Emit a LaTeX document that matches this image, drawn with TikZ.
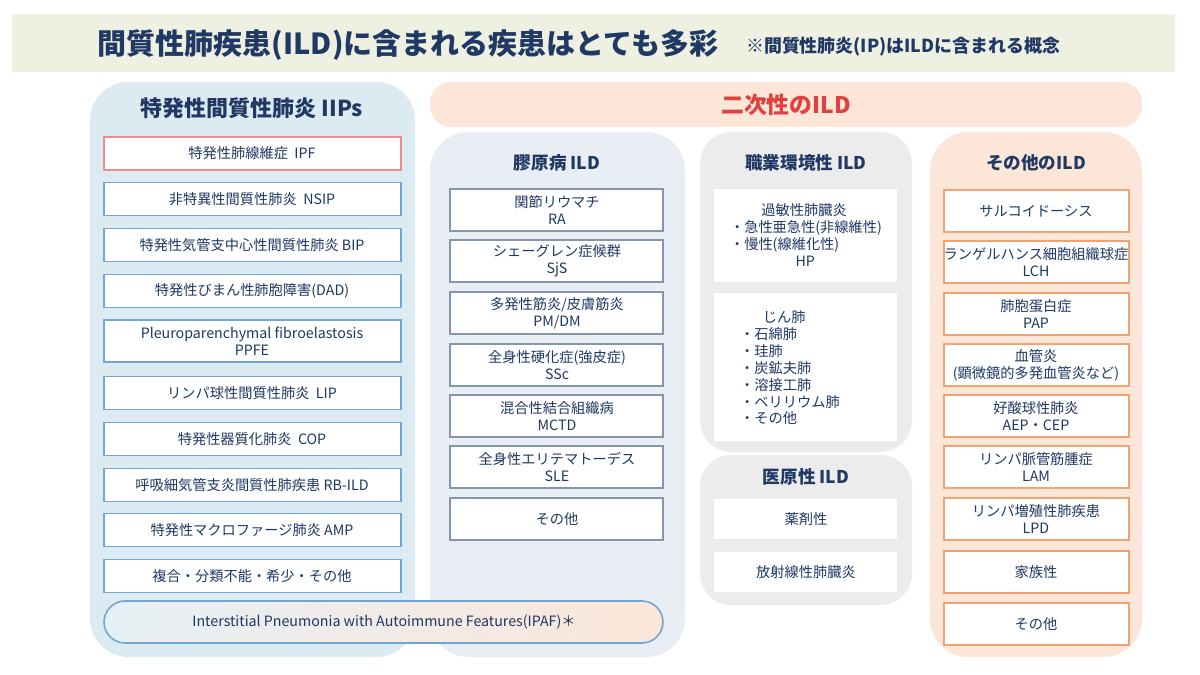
\documentclass[tikz,border=0pt]{standalone}
\usepackage{fontspec}
\setmainfont{Noto Sans CJK JP}
\definecolor{navy}{HTML}{1F3864}
\definecolor{band}{HTML}{EEF0E1}
\definecolor{lblue}{HTML}{DCEAF2}
\definecolor{bblue}{HTML}{6FA6D6}
\definecolor{peach}{HTML}{FBE6D8}
\definecolor{cgray}{HTML}{E9EEF4}
\definecolor{cbord}{HTML}{8495AD}
\definecolor{ogray}{HTML}{ECECEC}
\definecolor{obord}{HTML}{F0A272}
\definecolor{ired}{HTML}{E04040}
\begin{document}
\begin{tikzpicture}[x=0.02cm,y=-0.02cm,
  txt/.style={text=navy,font=\fontsize{8.1}{9.6}\selectfont,align=center},
  lbox/.style={draw=bblue,line width=0.9pt,fill=white},
  cbox/.style={draw=cbord,line width=0.7pt,fill=white},
  wbox/.style={draw=white!85!gray,line width=0.7pt,fill=white},
  obox/.style={draw=obord,line width=0.7pt,fill=white},
  hdr/.style={text=navy,font=\fontsize{10}{12}\selectfont\bfseries}]
\useasboundingbox (0,0) rectangle (1200,675);
\fill[white] (0,0) rectangle (1200,675);
\fill[band] (12,14) rectangle (1175,72);
\node[text=navy,font=\fontsize{16.5}{18}\selectfont\bfseries] (title) at (408,45) {間質性肺疾患(ILD)に含まれる疾患はとても多彩};
\node[text=navy,font=\fontsize{10.2}{12}\selectfont\bfseries,anchor=west] (note) at (740,47) {※間質性肺炎(IP)はILDに含まれる概念};
% columns
\fill[lblue,rounded corners=22] (90,82) rectangle (415,657);
\node[hdr,font=\fontsize{12.5}{14}\selectfont\bfseries] (h1) at (252,108) {特発性間質性肺炎 IIPs};
\fill[peach,rounded corners=12] (430,82) rectangle (1142,127);
\node[text=ired,font=\fontsize{13}{15}\selectfont\bfseries] (h2) at (786,105) {二次性のILD};
\fill[cgray,rounded corners=22] (430,132) rectangle (685,657);
\fill[ogray,rounded corners=18] (700,132) rectangle (912,452);
\fill[ogray,rounded corners=18] (700,455) rectangle (912,605);
\fill[peach,rounded corners=22] (930,132) rectangle (1142,657);
\node[hdr] (h3) at (557,163) {膠原病 ILD};
\node[hdr] (h4) at (806,163) {職業環境性 ILD};
\node[hdr] (h5) at (806,477) {医原性 ILD};
\node[hdr] (h6) at (1036,163) {その他のILD};
% left boxes
\draw[draw=ired!60,line width=0.9pt,fill=white] (104,137) rectangle (401,170);
\node[txt] (b1) at (252,153) {特発性肺線維症\ \ IPF};
\foreach \y/\t/\n in {199/{非特異性間質性肺炎\ \ NSIP}/b2,245/{特発性気管支中心性間質性肺炎 BIP}/b3,291/{特発性びまん性肺胞障害(DAD)}/b4,393/{リンパ球性間質性肺炎\ \ LIP}/b6,439/{特発性器質化肺炎\ \ COP}/b7,485/{呼吸細気管支炎間質性肺疾患 RB-ILD}/b8,530/{特発性マクロファージ肺炎 AMP}/b9,576/{複合・分類不能・希少・その他}/b10}{
  \draw[lbox] (104,\y-16.5) rectangle (401,\y+16.5);
  \node[txt] (\n) at (252,\y) {\t};}
\draw[lbox] (104,320) rectangle (401,362);
\node[txt] (b5) at (252,341) {Pleuroparenchymal fibroelastosis\\PPFE};
\shade[left color=lblue!70,right color=peach,rounded corners=12] (104,601) rectangle (663,643);
\draw[draw=bblue,line width=0.9pt,rounded corners=12] (104,601) rectangle (663,643);
\node[txt] (ipaf) at (384,622) {Interstitial Pneumonia with Autoimmune Features(IPAF)＊};
% collagen
\foreach \y/\t/\n in {210/{関節リウマチ\\RA}/c1,261/{シェーグレン症候群\\SjS}/c2,313/{多発性筋炎/皮膚筋炎\\PM/DM}/c3,365/{全身性硬化症(強皮症)\\SSc}/c4,416/{混合性結合組織病\\MCTD}/c5,467/{全身性エリテマトーデス\\SLE}/c6,519/{その他}/c7}{
  \draw[cbox] (450,\y-21) rectangle (663,\y+21);
  \node[txt] (\n) at (557,\y) {\t};}
% occupational
\draw[wbox] (713,188) rectangle (898,283);
\node[txt,align=left] (hp) at (806,235) {\hspace{2.2em}過敏性肺臓炎\\・急性亜急性(非線維性)\\・慢性(線維化性)\\\hspace{4.6em}HP};
\draw[wbox] (713,292) rectangle (898,442);
\node[txt,align=left] (jn) at (790,368) {\hspace{1.6em}じん肺\\・石綿肺\\・珪肺\\・炭鉱夫肺\\・溶接工肺\\・ベリリウム肺\\・その他};
\draw[wbox] (713,498) rectangle (898,540);
\node[txt] (m1) at (806,519) {薬剤性};
\draw[wbox] (713,551) rectangle (898,593);
\node[txt] (m2) at (806,572) {放射線性肺臓炎};
% other
\foreach \y/\t/\n in {211/{サルコイドーシス}/o1,262/{ランゲルハンス細胞組織球症\\LCH}/o2,314/{肺胞蛋白症\\PAP}/o3,365/{血管炎\\(顕微鏡的多発血管炎など)}/o4,416/{好酸球性肺炎\\AEP・CEP}/o5,467/{リンパ脈管筋腫症\\LAM}/o6,519/{リンパ増殖性肺疾患\\LPD}/o7,572/{家族性}/o8,624/{その他}/o9}{
  \draw[obox] (944,\y-21) rectangle (1129,\y+21);
  \node[txt] (\n) at (1036,\y) {\t};}
\end{tikzpicture}
\end{document}
